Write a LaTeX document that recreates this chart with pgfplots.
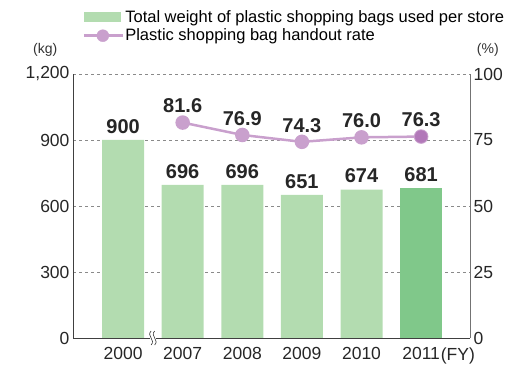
\documentclass[border=0pt]{standalone}
\usepackage{fontspec}
\setmainfont{Liberation Sans}
\usepackage{pgfplots}
\pgfplotsset{compat=1.18}
\definecolor{barc}{HTML}{B3DCB0}
\definecolor{barlast}{HTML}{80C88A}
\definecolor{linec}{HTML}{C9A0CD}
\definecolor{linelast}{HTML}{B278B9}
\definecolor{gridc}{HTML}{8A8A8A}
\begin{document}
\begin{tikzpicture}
\pgfplotsset{
  common/.style={
    scale only axis, width=397pt, height=264pt,
    xmin=-0.84, xmax=5.82,
    major tick length=0pt,
    /pgf/number format/assume math mode=true,
    tick label style={font=\fontsize{17.5}{20}\selectfont, text=black!85},
  }
}
\begin{axis}[common,
  axis x line*=bottom, axis y line*=left,
  axis line style={line width=0.8pt, black!75},
  ymin=0, ymax=1200, ytick={0,300,600,900,1200},
  /pgf/number format/1000 sep={,},
  xtick={0,1,2,3,4,5}, xticklabels={2000,2007,2008,2009,2010,2011},
  xticklabel style={yshift=-6pt},
  ymajorgrids, major grid style={gridc, line width=0.8pt, dash pattern=on 3pt off 3pt},
  ybar, bar width=42pt,
  nodes near coords,
  every node near coord/.append style={font=\fontsize{20}{22}\selectfont\bfseries, text=black!85, yshift=3pt},
  legend style={draw=none, fill=none, at={(0.023,1.245)}, anchor=north west,
    font=\fontsize{16.5}{18}\selectfont, inner sep=0pt, row sep=3pt,
    nodes={inner sep=1pt}},
  legend cell align=left,
  clip=false,
]
\addplot[fill=barc, draw=none, bar shift=0pt,
  legend image code/.code={\fill[barc] (0pt,-5pt) rectangle (37pt,5pt);}]
  coordinates {(0,900) (1,696) (2,696) (3,651) (4,674)};
\addlegendentry{Total weight of plastic shopping bags used per store}
\addplot[fill=barlast, draw=none, bar shift=0pt, forget plot]
  coordinates {(5,681)};
\addlegendimage{legend image code/.code={\draw[linec, line width=3pt] (0pt,0pt) -- (39pt,0pt); \fill[linec] (19pt,0pt) circle (6pt);}}
\addlegendentry{Plastic shopping bag handout rate}
\coordinate (sw) at (rel axis cs:0,0);
\coordinate (ne) at (rel axis cs:1,1);
\node[font=\fontsize{14}{16}\selectfont, text=black!80] at (axis description cs:-0.07,1.09) {(kg)};
\node[font=\fontsize{14}{16}\selectfont, text=black!80] at (axis description cs:1.045,1.09) {(\%)};
\node[font=\fontsize{17.5}{20}\selectfont, text=black!85, anchor=west, inner sep=0pt] at (axis description cs:0.926,-0.068) {(FY)};
\fill[white] ([xshift=-3pt,yshift=-1pt]axis cs:0.5,0) rectangle ([xshift=3pt,yshift=1pt]axis cs:0.5,0);
\draw[black!80, line width=0.6pt] ([xshift=-1.8pt,yshift=-7pt]axis cs:0.5,0) .. controls +(5pt,5pt) and +(-5pt,-5pt) .. +(0pt,14pt);
\draw[black!80, line width=0.6pt] ([xshift=1.8pt,yshift=-7pt]axis cs:0.5,0) .. controls +(5pt,5pt) and +(-5pt,-5pt) .. +(0pt,14pt);
\end{axis}
\begin{axis}[common,
  axis x line=none, axis y line*=right,
  axis line style={line width=0.8pt, black!55},
  ymin=0, ymax=100, ytick={0,25,50,75,100},
  clip=false,
]
\addplot[linec, line width=2.5pt, mark=*, mark size=6pt, mark options={fill=linec, draw=linec},
  nodes near coords={\pgfmathprintnumber[fixed,fixed zerofill,precision=1]{\pgfplotspointmeta}},
  every node near coord/.append style={font=\fontsize{20}{22}\selectfont\bfseries, text=black!85, yshift=5pt}]
  coordinates {(1,81.6) (2,76.9) (3,74.3) (4,76.0) (5,76.3)};
\addplot[only marks, mark=*, mark size=6pt, mark options={fill=linelast, draw=linelast}]
  coordinates {(5,76.3)};
\end{axis}
\pgfresetboundingbox
\path[use as bounding box] ([xshift=-73pt,yshift=-30pt]sw) rectangle ([xshift=38pt,yshift=74pt]ne);
\end{tikzpicture}
\end{document}
